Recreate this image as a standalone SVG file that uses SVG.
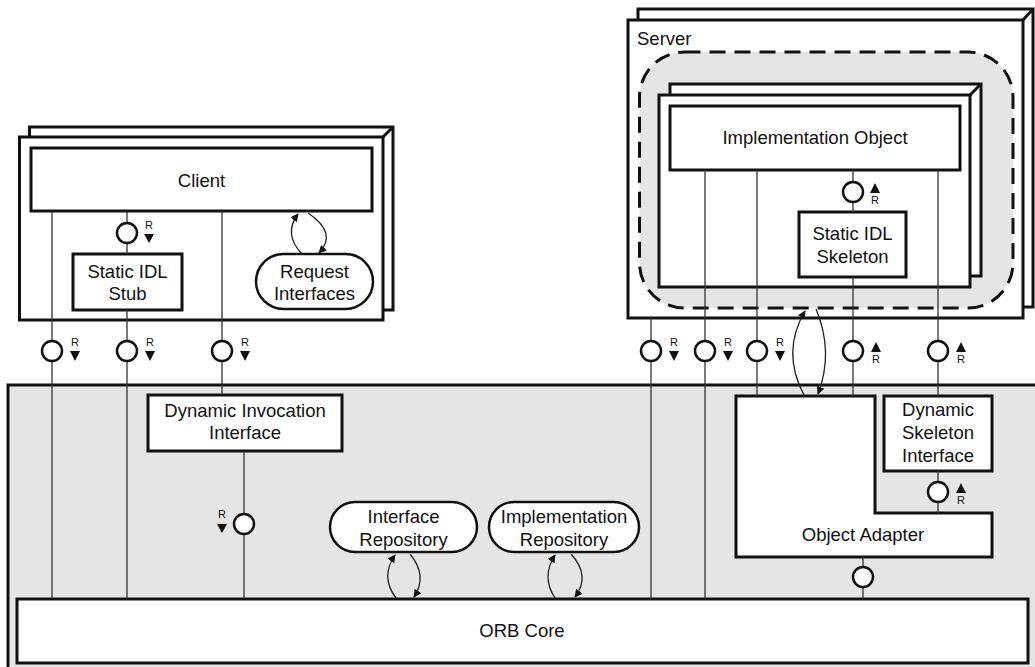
<svg xmlns="http://www.w3.org/2000/svg" width="1035" height="667" viewBox="0 0 1035 667">
  <style>
    .box { fill: #ffffff; stroke: #111111; stroke-width: 3; }
    .pill { fill: #ffffff; stroke: #111111; stroke-width: 2.5; }
    .area { fill: #e5e5e5; stroke: #111111; stroke-width: 3; }
    .dash { fill: #e5e5e5; stroke: #111111; stroke-width: 3; stroke-dasharray: 16 9; }
    .edge { fill: none; stroke: #111111; stroke-width: 3; }
    .life { fill: none; stroke: #333333; stroke-width: 1.3; }
    .arc { fill: none; stroke: #222222; stroke-width: 1.3; }
    .lol circle { fill: #ffffff; stroke: #111111; stroke-width: 2.5; }
    .lol polygon { fill: #111111; }
    .lbl { font-family: "Liberation Sans", Arial, sans-serif; font-size: 18.5px; fill: #111111; text-anchor: middle; }
    .r { font-family: "Liberation Sans", Arial, sans-serif; font-size: 11px; fill: #111111; text-anchor: middle; }
  </style>
  <defs>
    <marker id="ah" viewBox="0 0 10 10" refX="9" refY="5" markerWidth="8" markerHeight="8" markerUnits="userSpaceOnUse" orient="auto">
      <path d="M0,0 L10,5 L0,10 z" fill="#111111"/>
    </marker>
  </defs>

  <!-- ORB layer background -->
  <g id="orb-layer">
    <rect class="area" x="8" y="385" width="1040" height="292"/>
  </g>

  <!-- Client process stack -->
  <g id="client-process">
    <rect class="box" x="29.5" y="127" width="363.5" height="183"/>
    <line class="edge" x1="383" y1="137" x2="393" y2="127"/>
    <rect class="box" x="19.5" y="137" width="363.5" height="183"/>
  </g>

  <!-- Server process stack with its dashed object region -->
  <g id="server-process">
    <rect class="box" x="638" y="9" width="395" height="298"/>
    <line class="edge" x1="1023" y1="20" x2="1033" y2="9"/>
    <rect class="box" x="628" y="20" width="395" height="298"/>
    <text class="lbl" x="637" y="45" style="text-anchor:start">Server</text>
    <rect class="dash" x="639.5" y="52" width="373.5" height="256" rx="45" ry="45"/>
  </g>

  <g id="implementation-stack">
    <rect class="box" x="670" y="84" width="311" height="192"/>
    <line class="edge" x1="970" y1="95" x2="981" y2="84"/>
    <rect class="box" x="659" y="95" width="311" height="192"/>
  </g>

  <g id="client">
    <rect class="box" x="31" y="148" width="341" height="63"/>
    <text class="lbl" x="201.5" y="187">Client</text>
  </g>

  <g id="static-idl-stub">
    <rect class="box" x="73" y="254" width="109" height="56"/>
    <text class="lbl" x="127.5" y="278">Static IDL</text>
    <text class="lbl" x="127.5" y="300">Stub</text>
  </g>

  <g id="request-interfaces">
    <rect class="pill" x="256" y="254" width="117" height="55" rx="27.5" ry="27.5"/>
    <text class="lbl" x="314.5" y="278">Request</text>
    <text class="lbl" x="314.5" y="300">Interfaces</text>
  </g>

  <g id="implementation-object">
    <rect class="box" x="670" y="106" width="290" height="64"/>
    <text class="lbl" x="815" y="144">Implementation Object</text>
  </g>

  <g id="static-idl-skeleton">
    <rect class="box" x="799" y="212" width="107" height="65"/>
    <text class="lbl" x="852.5" y="240">Static IDL</text>
    <text class="lbl" x="852.5" y="263">Skeleton</text>
  </g>

  <g id="dynamic-invocation-interface">
    <rect class="box" x="148" y="395" width="194" height="56"/>
    <text class="lbl" x="245" y="417">Dynamic Invocation</text>
    <text class="lbl" x="245" y="439">Interface</text>
  </g>

  <g id="dynamic-skeleton-interface">
    <rect class="box" x="884" y="396" width="108" height="75"/>
    <text class="lbl" x="938" y="416">Dynamic</text>
    <text class="lbl" x="938" y="439">Skeleton</text>
    <text class="lbl" x="938" y="462">Interface</text>
  </g>

  <g id="object-adapter">
    <path class="box" d="M736,396 H875 V513 H992 V557 H736 Z"/>
    <text class="lbl" x="863" y="541">Object Adapter</text>
  </g>

  <g id="interface-repository">
    <rect class="pill" x="330" y="502" width="147" height="50" rx="25" ry="25"/>
    <text class="lbl" x="403.5" y="523">Interface</text>
    <text class="lbl" x="403.5" y="546">Repository</text>
  </g>

  <g id="implementation-repository">
    <rect class="pill" x="489" y="502" width="150" height="50" rx="25" ry="25"/>
    <text class="lbl" x="564" y="523">Implementation</text>
    <text class="lbl" x="564" y="546">Repository</text>
  </g>

  <g id="orb-core">
    <rect class="box" x="17" y="599" width="1011" height="64"/>
    <text class="lbl" x="522" y="637">ORB Core</text>
  </g>

  <!-- Connectors: call lines, usage arcs and interface lollipops -->
  <g id="connectors">
    <!-- client side call lines -->
    <line class="life" x1="52" y1="212" x2="52" y2="598"/>
    <line class="life" x1="127" y1="212" x2="127" y2="254"/>
    <line class="life" x1="127" y1="310" x2="127" y2="598"/>
    <line class="life" x1="222" y1="212" x2="222" y2="395"/>
    <line class="life" x1="244" y1="452" x2="244" y2="598"/>
    <!-- server side call lines -->
    <line class="life" x1="651" y1="318" x2="651" y2="598"/>
    <line class="life" x1="705" y1="170" x2="705" y2="598"/>
    <line class="life" x1="757" y1="170" x2="757" y2="396"/>
    <line class="life" x1="853" y1="170" x2="853" y2="212"/>
    <line class="life" x1="853" y1="277" x2="853" y2="396"/>
    <line class="life" x1="938" y1="170" x2="938" y2="396"/>
    <line class="life" x1="938" y1="471" x2="938" y2="513"/>
    <line class="life" x1="863" y1="557" x2="863" y2="598"/>

    <!-- usage arcs -->
    <path class="arc" d="M302,254 Q283,234 298,214" marker-end="url(#ah)"/>
    <path class="arc" d="M308,213 Q338,233 319,253" marker-end="url(#ah)"/>
    <path class="arc" d="M804,395 Q781,352 805,311" marker-end="url(#ah)"/>
    <path class="arc" d="M816,309 Q834,352 818,394" marker-end="url(#ah)"/>
    <path class="arc" d="M396,598 Q380,577 395,555" marker-end="url(#ah)"/>
    <path class="arc" d="M410,554 Q428,576 414,597" marker-end="url(#ah)"/>
    <path class="arc" d="M555,598 Q541,577 555,555" marker-end="url(#ah)"/>
    <path class="arc" d="M571,554 Q591,576 575,597" marker-end="url(#ah)"/>

    <!-- lollipops, request flowing down -->
    <g class="lol" transform="translate(127,233)">
      <circle r="10"/><text class="r" x="22" y="-4">R</text><polygon points="17,1 27,1 22,10"/>
    </g>
    <g class="lol" transform="translate(52,351)">
      <circle r="10"/><text class="r" x="23" y="-5">R</text><polygon points="18,0 28,0 23,10"/>
    </g>
    <g class="lol" transform="translate(127,351)">
      <circle r="10"/><text class="r" x="23" y="-5">R</text><polygon points="18,0 28,0 23,10"/>
    </g>
    <g class="lol" transform="translate(222,351)">
      <circle r="10"/><text class="r" x="23" y="-5">R</text><polygon points="18,0 28,0 23,10"/>
    </g>
    <g class="lol" transform="translate(651,351)">
      <circle r="10"/><text class="r" x="23" y="-5">R</text><polygon points="18,0 28,0 23,10"/>
    </g>
    <g class="lol" transform="translate(705,351)">
      <circle r="10"/><text class="r" x="23" y="-5">R</text><polygon points="18,0 28,0 23,10"/>
    </g>
    <g class="lol" transform="translate(757,351)">
      <circle r="10"/><text class="r" x="23" y="-5">R</text><polygon points="18,0 28,0 23,10"/>
    </g>
    <g class="lol" transform="translate(244,524)">
      <circle r="10"/><text class="r" x="-22" y="-6">R</text><polygon points="-27,0 -17,0 -22,9"/>
    </g>
    <!-- lollipops, request flowing up -->
    <g class="lol" transform="translate(853,351)">
      <circle r="10"/><polygon points="23,-9 28,1 18,1"/><text class="r" x="23" y="12">R</text>
    </g>
    <g class="lol" transform="translate(938,351)">
      <circle r="10"/><polygon points="23,-9 28,1 18,1"/><text class="r" x="23" y="12">R</text>
    </g>
    <g class="lol" transform="translate(853,192)">
      <circle r="10"/><polygon points="22,-9 27,1 17,1"/><text class="r" x="22" y="12">R</text>
    </g>
    <g class="lol" transform="translate(938,492)">
      <circle r="10"/><polygon points="23,-9 28,1 18,1"/><text class="r" x="23" y="12">R</text>
    </g>
    <!-- plain lollipop below the object adapter -->
    <g class="lol" transform="translate(863,577)">
      <circle r="10"/>
    </g>
  </g>
</svg>
